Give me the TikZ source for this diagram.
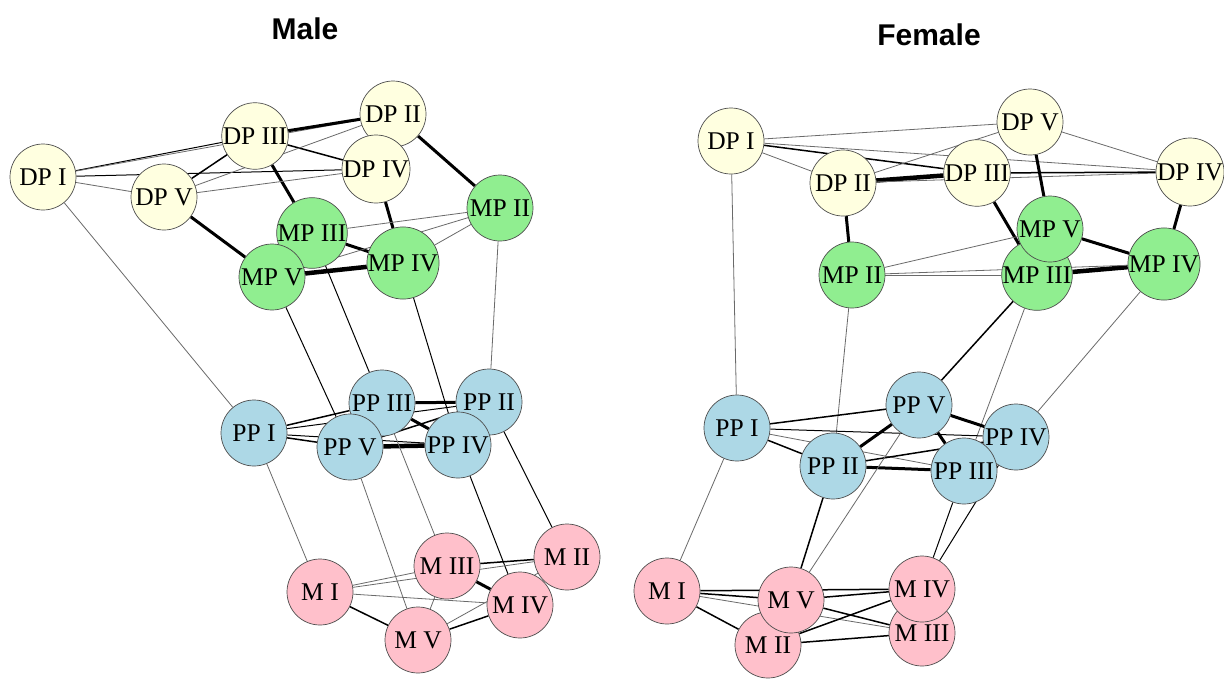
\documentclass[tikz,border=0pt]{standalone}
\usepackage{fontspec}
\setmainfont{Liberation Serif}
\newfontfamily\titlefont{Liberation Sans}
\usetikzlibrary{backgrounds}
\definecolor{cDP}{HTML}{FFFFE0}
\definecolor{cMP}{HTML}{90EE90}
\definecolor{cPP}{HTML}{ADD8E6}
\definecolor{cM}{HTML}{FFC0CB}
\definecolor{rim}{HTML}{4D4D4D}
\definecolor{wkline}{HTML}{6A6A6A}
\tikzset{
  base/.style={circle, draw=rim, line width=0.7pt, minimum size=66pt, inner sep=0pt,
    font=\fontsize{25.5}{25.5}\selectfont},
  dpnode/.style={base, fill=cDP},
  mpnode/.style={base, fill=cMP},
  ppnode/.style={base, fill=cPP},
  mnode/.style={base, fill=cM},
  ttl/.style={font=\titlefont\bfseries\fontsize{30}{30}\selectfont},
  wk/.style={draw=wkline, line width=0.8pt},
  th/.style={draw=black, line width=1.0pt},
  md/.style={draw=black, line width=1.5pt},
  tk/.style={draw=black, line width=3pt},
  vt/.style={draw=black, line width=4.5pt},
}
\begin{document}
\begin{tikzpicture}[x=1pt,y=-1pt]
\useasboundingbox (0,0) rectangle (1224,678);
\node[ttl] (tM) at (305,29) {Male};
\node[ttl] (tF) at (929,35) {Female};
% ---------- Male ----------
\node[dpnode] (mDP1) at (43,177) {DP I};
\node[dpnode] (mDP3) at (255,136) {DP III};
\node[dpnode] (mDP2) at (393,114) {DP II};
\node[dpnode] (mDP4) at (376,169) {DP IV};
\node[dpnode] (mDP5) at (164,197) {DP V};
\node[mpnode] (mMP3) at (312,233) {MP III};
\node[mpnode] (mMP2) at (500,208) {MP II};
\node[mpnode] (mMP4) at (403,263) {MP IV};
\node[mpnode] (mMP5) at (272,277) {MP V};
\node[ppnode] (mPP1) at (254,433) {PP I};
\node[ppnode] (mPP3) at (382,403) {PP III};
\node[ppnode] (mPP2) at (489,402) {PP II};
\node[ppnode] (mPP5) at (350,447) {PP V};
\node[ppnode] (mPP4) at (458,445) {PP IV};
\node[mnode] (mM3) at (447,566) {M III};
\node[mnode] (mM2) at (567,557) {M II};
\node[mnode] (mM1) at (320,592) {M I};
\node[mnode] (mM4) at (520,605) {M IV};
\node[mnode] (mM5) at (418,640) {M V};
% ---------- Female ----------
\node[dpnode] (fDP1) at (731,141) {DP I};
\node[dpnode] (fDP5) at (1030,122) {DP V};
\node[dpnode] (fDP2) at (843,183) {DP II};
\node[dpnode] (fDP3) at (977,173) {DP III};
\node[dpnode] (fDP4) at (1190,172) {DP IV};
\node[mpnode] (fMP3) at (1037,275) {MP III};
\node[mpnode] (fMP5) at (1050,229) {MP V};
\node[mpnode] (fMP2) at (852,275) {MP II};
\node[mpnode] (fMP4) at (1164,264) {MP IV};
\node[ppnode] (fPP1) at (737,428) {PP I};
\node[ppnode] (fPP5) at (919,405) {PP V};
\node[ppnode] (fPP2) at (833,466) {PP II};
\node[ppnode] (fPP4) at (1016,437) {PP IV};
\node[ppnode] (fPP3) at (964,471) {PP III};
\node[mnode] (fM1) at (667,591) {M I};
\node[mnode] (fM2) at (768,645) {M II};
\node[mnode] (fM5) at (791,600) {M V};
\node[mnode] (fM3) at (922,633) {M III};
\node[mnode] (fM4) at (922,589) {M IV};
\begin{scope}[on background layer]
\fill[white] (0,0) rectangle (1224,678);
% Male edges
\draw[th] (mDP1) -- (mDP3);
\draw[wk] (mDP1) -- (mDP2);
\draw[th] (mDP1) -- (mDP4);
\draw[wk] (mDP1) -- (mDP5);
\draw[wk] (mDP1) -- (mPP1);
\draw[tk] (mDP3) -- (mDP2);
\draw[md] (mDP3) -- (mDP4);
\draw[md] (mDP3) -- (mDP5);
\draw[tk] (mDP3) -- (mMP3);
\draw[wk] (mDP5) -- (mDP2);
\draw[wk] (mDP5) -- (mDP4);
\draw[tk] (mDP5) -- (mMP5);
\draw[tk] (mDP2) -- (mMP2);
\draw[tk] (mDP4) -- (mMP4);
\draw[tk] (mMP3) -- (mMP4);
\draw[vt] (mMP5) -- (mMP4);
\draw[wk] (mMP3) -- (mMP2);
\draw[wk] (mMP5) -- (mMP2);
\draw[wk] (mMP4) -- (mMP2);
\draw[th] (mMP5) -- (mPP5);
\draw[th] (mMP3) -- (mPP3);
\draw[th] (mMP4) -- (mPP4);
\draw[wk] (mMP2) -- (mPP2);
\draw[md] (mPP1) -- (mPP3);
\draw[th] (mPP1) -- (mPP2);
\draw[md] (mPP1) -- (mPP5);
\draw[th] (mPP1) -- (mPP4);
\draw[tk] (mPP3) -- (mPP2);
\draw[tk] (mPP3) -- (mPP4);
\draw[vt] (mPP5) -- (mPP4);
\draw[md] (mPP5) -- (mPP2);
\draw[wk] (mPP1) -- (mM1);
\draw[wk] (mPP5) -- (mM5);
\draw[wk] (mPP3) -- (mM3);
\draw[th] (mPP4) -- (mM4);
\draw[th] (mPP2) -- (mM2);
\draw[wk] (mM1) -- (mM3);
\draw[wk] (mM1) -- (mM2);
\draw[wk] (mM1) -- (mM4);
\draw[md] (mM1) -- (mM5);
\draw[md] (mM3) -- (mM2);
\draw[tk] (mM3) -- (mM4);
\draw[wk] (mM3) -- (mM5);
\draw[md] (mM5) -- (mM4);
\draw[wk] (mM5) -- (mM2);
% Female edges
\draw[wk] (fDP1) -- (fDP5);
\draw[md] (fDP1) -- (fDP3);
\draw[wk] (fDP1) -- (fDP4);
\draw[wk] (fDP1) -- (fDP2);
\draw[wk] (fDP1) -- (fPP1);
\draw[vt] (fDP2) -- (fDP3);
\draw[wk] (fDP2) -- (fDP5);
\draw[wk] (fDP2) -- (fDP4);
\draw[tk] (fDP2) -- (fMP2);
\draw[md] (fDP3) -- (fDP4);
\draw[tk] (fDP3) -- (fMP3);
\draw[wk] (fDP5) -- (fDP4);
\draw[tk] (fDP5) -- (fMP5);
\draw[tk] (fDP4) -- (fMP4);
\draw[tk] (fMP5) -- (fMP4);
\draw[vt] (fMP3) -- (fMP4);
\draw[wk] (fMP2) -- (fMP3);
\draw[wk] (fMP2) -- (fMP4);
\draw[wk] (fMP2) -- (fMP5);
\draw[wk] (fMP2) -- (fPP2);
\draw[md] (fMP3) -- (fPP5);
\draw[wk] (fMP3) -- (fPP3);
\draw[wk] (fMP4) -- (fPP4);
\draw[md] (fPP1) -- (fPP5);
\draw[th] (fPP1) -- (fPP4);
\draw[wk] (fPP1) -- (fPP3);
\draw[md] (fPP1) -- (fPP2);
\draw[tk] (fPP2) -- (fPP5);
\draw[tk] (fPP2) -- (fPP3);
\draw[md] (fPP2) -- (fPP4);
\draw[tk] (fPP5) -- (fPP4);
\draw[tk] (fPP5) -- (fPP3);
\draw[wk] (fPP1) -- (fM1);
\draw[md] (fPP2) -- (fM5);
\draw[wk] (fPP5) -- (fM5);
\draw[th] (fPP3) -- (fM4);
\draw[th] (fPP4) -- (fM4);
\draw[md] (fM1) -- (fM5);
\draw[md] (fM1) -- (fM4);
\draw[wk] (fM1) -- (fM3);
\draw[md] (fM1) -- (fM2);
\draw[md] (fM5) -- (fM4);
\draw[md] (fM5) -- (fM3);
\draw[md] (fM2) -- (fM4);
\draw[md] (fM2) -- (fM3);
\end{scope}
\end{tikzpicture}
\end{document}
